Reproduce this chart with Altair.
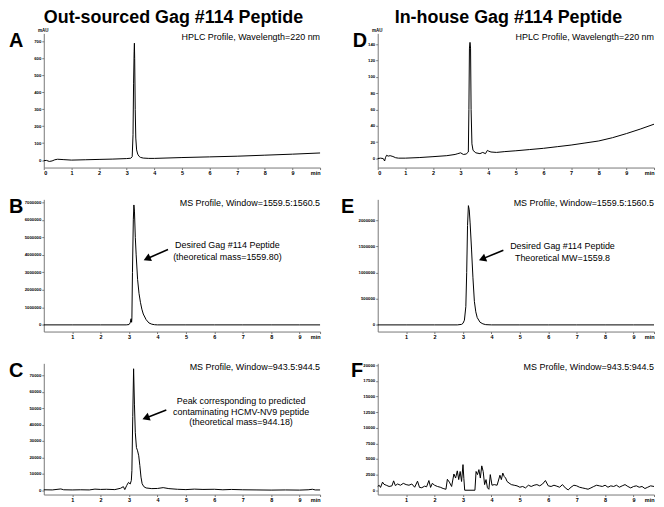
import altair as alt
import pandas as pd

FONT = "Liberation Sans"
PANEL_W = 278

# ---------------- data ----------------
# A: HPLC, out-sourced peptide (mAU)
A_T = [0, 0.1, 0.2, 0.3, 0.4, 0.5, 0.7, 1.0, 1.5, 2.0, 2.5, 3.0, 3.15, 3.2, 3.23, 3.25, 3.27, 3.28,
       3.29, 3.31, 3.33, 3.36, 3.4, 3.45, 3.5, 3.6, 3.8, 4.0, 5.0, 6.0, 7.0, 8.0, 9.0, 10.0]
A_V = [-3, -2, -8, -5, 2, 5, 3, 0, 2, 4, 6, 9, 11, 20, 150, 450, 640, 690,
       600, 300, 130, 60, 35, 22, 16, 12, 10, 10, 15, 19, 23, 29, 35, 42]

# D: HPLC, in-house peptide (mAU)
D_T = [0, 0.1, 0.2, 0.25, 0.28, 0.32, 0.38, 0.45, 0.55, 0.65, 0.75, 1.0, 1.5, 2.0, 2.5, 2.8, 2.9, 3.0,
       3.1, 3.2, 3.28, 3.30, 3.32, 3.34, 3.36, 3.38, 3.41, 3.45, 3.55, 3.7, 3.8, 3.9, 3.97, 4.02, 4.1,
       4.3, 4.6, 5.0, 5.5, 6.0, 6.5, 7.0, 7.5, 8.0, 8.5, 9.0, 9.5, 10.0]
D_V = [0, 0.5, 0, -3, 1, 4, 3, 3.5, 2.5, 1, 0.5, 0.5, 1.2, 2.3, 3.5, 5, 6, 7,
       5, 5.5, 8, 60, 135, 142, 135, 60, 18, 10, 7, 6, 7.5, 6, 10, 9, 8,
       7.5, 8.5, 9.5, 11, 12.5, 14.5, 16.5, 19, 21.5, 25.5, 30.5, 36, 42]

# B: MS profile 1559.5:1560.5, out-sourced
B_T = [0, 1, 2, 2.9, 3.0, 3.04, 3.07, 3.09, 3.1, 3.12, 3.15, 3.17, 3.19, 3.22, 3.25, 3.3, 3.35,
       3.4, 3.45, 3.5, 3.6, 3.7, 3.8, 3.9, 4.0, 5, 6, 7, 8, 9, 9.72]
B_V = [0, 0, 0, 0, 20000, 120000, 350000, 150000, 400000, 3000000, 6000000, 6850000, 6500000,
       5000000, 4000000, 2600000, 1800000, 1290000, 900000, 620000, 300000, 110000, 40000, 10000,
       0, 0, 0, 0, 0, 0, 0]

# E: MS profile 1559.5:1560.5, in-house
E_T = [0, 1, 2, 2.8, 2.95, 3.0, 3.05, 3.1, 3.13, 3.16, 3.19, 3.22, 3.25, 3.3, 3.35, 3.4, 3.45,
       3.5, 3.6, 3.7, 3.8, 4.0, 5, 6, 7, 8, 9, 9.72]
E_V = [0, 0, 0, 0, 10000, 30000, 90000, 350000, 1000000, 1900000, 2280000, 2200000, 1950000,
       1450000, 900000, 450000, 250000, 140000, 50000, 20000, 5000, 0, 0, 0, 0, 0, 0, 0]

# C: MS profile 943.5:944.5, out-sourced
C_T = [0, 0.3, 0.6, 0.7, 1.0, 1.3, 1.6, 1.8, 2.0, 2.2, 2.5, 2.7, 2.8, 2.85, 2.92, 2.98, 3.04,
       3.08, 3.1, 3.13, 3.16, 3.19, 3.22, 3.26, 3.3, 3.34, 3.38, 3.42, 3.46, 3.52, 3.6, 3.8, 4.0,
       4.2, 4.4, 4.7, 5.0, 5.3, 5.6, 6.0, 6.3, 6.6, 7.0, 7.5, 8.0, 8.5, 9.0, 9.3, 9.45, 9.55, 9.72]
C_V = [300, 200, 800, 300, 200, 300, 200, 700, 500, 600, 400, 1200, 2200, 400, 3000, 4800, 3800,
       6000, 12000, 45000, 74000, 52000, 35000, 26000, 24000, 21000, 15000, 8000, 4000, 2200, 1400,
       1000, 1100, 1600, 1000, 600, 400, 700, 500, 600, 300, 500, 300, 200, 100, 200, 100, 300,
       600, 200, 200]

# F: MS profile 943.5:944.5, in-house (noise)
F_T = [0.0, 0.05, 0.1, 0.17, 0.22, 0.3, 0.4, 0.5, 0.56, 0.62, 0.7, 0.8, 0.9, 1.0, 1.1, 1.2, 1.3,
       1.4, 1.47, 1.55, 1.65, 1.72, 1.8, 1.86, 1.92, 2.0, 2.1, 2.2, 2.3, 2.4, 2.45, 2.52, 2.6,
       2.68, 2.74, 2.8, 2.85, 2.9, 2.95, 3.0, 3.03, 3.06, 3.42, 3.46, 3.51, 3.56, 3.61, 3.66,
       3.71, 3.76, 3.81, 3.86, 3.91, 3.96, 4.02, 4.1, 4.2, 4.3, 4.35, 4.4, 4.45, 4.5, 4.55,
       4.62, 4.7, 4.8, 4.9, 5.0, 5.1, 5.2, 5.3, 5.4, 5.5, 5.6, 5.7, 5.8, 5.9, 6.0, 6.1, 6.2,
       6.3, 6.4, 6.5, 6.6, 6.7, 6.8, 6.9, 7.0, 7.1, 7.2, 7.3, 7.4, 7.5, 7.6, 7.7, 7.8, 7.9,
       8.0, 8.1, 8.2, 8.3, 8.4, 8.5, 8.6, 8.7, 8.8, 8.9, 9.0, 9.1, 9.2, 9.3, 9.4, 9.5, 9.6, 9.72]
F_V = [600, 800, 450, 1300, 950, 800, 600, 700, 1500, 750, 1000, 800, 1100, 900, 800, 1000, 480,
       1450, 450, 400, 650, 550, 1550, 450, 1100, 800, 600, 480, 280, 150, 1750, 1300, 600,
       2600, 1950, 3100, 1700, 3000, 1400, 4100, 1900, 0, 0, 3000, 2500, 3300, 1950, 3900,
       3000, 900, 1700, 400, 150, 2500, 800, 900, 800, 2400, 1700, 2750, 2200, 1950, 1400,
       1150, 900, 800, 700, 480, 600, 370, 800, 600, 800, 900, 700, 1000, 1550, 700, 600, 800,
       650, 480, 900, 370, 50, 480, 800, 700, 480, 370, 270, 160, 370, 600, 800, 700, 600,
       800, 480, 700, 600, 800, 480, 700, 900, 600, 370, 600, 700, 480, 600, 270, 480, 700, 600]

# axis ticks
HPLC_X_TICKS = [0, 1, 2, 3, 4, 5, 6, 7, 8, 9, 10]
MS_X_TICKS = [1, 2, 3, 4, 5, 6, 7, 8, 9, 9.72]
A_Y_TICKS = [0, 100, 200, 300, 400, 500, 600, 700]
D_Y_TICKS = [0, 20, 40, 60, 80, 100, 120, 140]
B_Y_TICKS = [0, 1000000, 2000000, 3000000, 4000000, 5000000, 6000000, 7000000]
E_Y_TICKS = [0, 500000, 1000000, 1500000, 2000000]
C_Y_TICKS = [0, 10000, 20000, 30000, 40000, 50000, 60000, 70000]
F_Y_TICKS = [0, 2500, 5000, 7500, 10000, 12500, 15000, 17500, 20000]

# annotations (data coordinates)
HPLC_HEADER = "HPLC Profile, Wavelength=220 nm"
MS1_HEADER = "MS Profile, Window=1559.5:1560.5"
MS2_HEADER = "MS Profile, Window=943.5:944.5"
B_NOTES = (["Desired Gag #114 Peptide", "(theoretical mass=1559.80)"], [6.46, 6.46], [4540000, 3880000])
E_NOTES = (["Desired Gag #114 Peptide", "Theoretical MW=1559.8"], [6.5, 6.5], [1500000, 1280000])
C_NOTES = (["Peak corresponding to predicted", "contaminating HCMV-NV9 peptide",
            "(theoretical mass=944.18)"], [6.94, 6.94, 6.94], [54360, 47870, 41800])
# arrows: tail (t, v), head (t2, v2), head angle
B_ARROW = (4.37, 4310000, 3.63, 3780000, 246)
E_ARROW = (4.42, 1426000, 3.68, 1262000, 248)
C_ARROW = (4.31, 48900, 3.59, 44000, 249)


def make_panel(t, v, xmax, ydom, yticks, xticks, letter, letter_x, header, height,
               ytitle=None, notes=None, arrow=None):
    assert len(t) == len(v)
    xs = alt.Scale(domain=[0, xmax], nice=False, zero=False)
    ys = alt.Scale(domain=ydom, nice=False, zero=False)
    xax = alt.Axis(values=xticks, labelExpr="datum.value >= 9.5 ? 'min' : datum.label",
                   labelFlush=True, tickSize=2, labelPadding=1, labelFontSize=5.5,
                   labelFontWeight="bold", labelColor="black", domainColor="#777",
                   tickColor="#777", grid=False, title=None)
    yargs = dict(values=yticks, format="d", tickSize=2, labelPadding=1, labelFontSize=4.3,
                 labelFontWeight="bold", labelColor="black", domainColor="#777",
                 tickColor="#777", grid=False)
    if ytitle:
        yax = alt.Axis(title=ytitle, titleAngle=0, titleX=-1, titleY=-1, titleAlign="center",
                       titleBaseline="bottom", titleFontSize=4.5, titleFontWeight="bold",
                       **yargs)
    else:
        yax = alt.Axis(title=None, **yargs)
    xe = alt.X("t:Q", scale=xs, axis=xax)
    ye = alt.Y("v:Q", scale=ys, axis=yax)

    line = alt.Chart(pd.DataFrame({"t": t, "v": v})).mark_line(
        color="black", strokeWidth=1).encode(x=xe, y=ye)
    head = alt.Chart(pd.DataFrame({"t": [xmax], "v": [ydom[1]], "label": [header]})).mark_text(
        align="right", baseline="top", fontSize=9, font=FONT, color="black").encode(
        x=xe, y=ye, text="label:N")
    let = alt.Chart(pd.DataFrame({"t": [letter_x], "v": [ydom[1]], "label": [letter]})).mark_text(
        align="left", baseline="top", fontSize=20, fontWeight="bold", font=FONT,
        color="black", dy=-2).encode(x=xe, y=ye, text="label:N")
    layers = [line, head, let]
    if notes:
        nd = pd.DataFrame({"label": notes[0], "t": notes[1], "v": notes[2]})
        layers.append(alt.Chart(nd).mark_text(
            align="center", baseline="middle", fontSize=9, font=FONT, color="black").encode(
            x=xe, y=ye, text="label:N"))
    if arrow:
        ad = pd.DataFrame({"t": [arrow[0]], "v": [arrow[1]], "t2": [arrow[2]], "v2": [arrow[3]]})
        layers.append(alt.Chart(ad).mark_rule(color="black", strokeWidth=1.6).encode(
            x=xe, y=ye, x2="t2:Q", y2="v2:Q"))
        hd = pd.DataFrame({"t": [arrow[2]], "v": [arrow[3]]})
        layers.append(alt.Chart(hd).mark_point(
            shape="triangle-up", filled=True, size=70, color="black", opacity=1,
            angle=arrow[4]).encode(x=xe, y=ye))
    return alt.layer(*layers).properties(width=PANEL_W, height=height)


pA = make_panel(A_T, A_V, 10, [-44, 748], A_Y_TICKS, HPLC_X_TICKS, "A", -1.26, HPLC_HEADER, 135,
                ytitle="mAU")
pB = make_panel(B_T, B_V, 9.72, [-380000, 7170000], B_Y_TICKS, MS_X_TICKS, "B", -1.22,
                MS1_HEADER, 133, notes=B_NOTES, arrow=B_ARROW)
pC = make_panel(C_T, C_V, 9.72, [-2600, 77300], C_Y_TICKS, MS_X_TICKS, "C", -1.22,
                MS2_HEADER, 132, notes=C_NOTES, arrow=C_ARROW)
pD = make_panel(D_T, D_V, 10, [-11, 153], D_Y_TICKS, HPLC_X_TICKS, "D", -0.9, HPLC_HEADER, 135,
                ytitle="mAU")
pE = make_panel(E_T, E_V, 9.72, [-127000, 2400000], E_Y_TICKS, MS_X_TICKS, "E", -1.29,
                MS1_HEADER, 133, notes=E_NOTES, arrow=E_ARROW)
pF = make_panel(F_T, F_V, 9.72, [-690, 20320], F_Y_TICKS, MS_X_TICKS, "F", -0.94,
                MS2_HEADER, 132)

left = alt.vconcat(pA, pB, pC, spacing=21,
                   title=alt.TitleParams("Out-sourced Gag #114 Peptide", fontSize=18,
                                         fontWeight="bold", font=FONT, anchor="middle",
                                         offset=0, dx=8))
right = alt.vconcat(pD, pE, pF, spacing=21,
                    title=alt.TitleParams("In-house Gag #114 Peptide", fontSize=18,
                                          fontWeight="bold", font=FONT, anchor="middle",
                                          offset=0, dx=10))

chart = alt.hconcat(left, right, spacing=19).properties(padding=0).configure(
    font=FONT).configure_view(strokeWidth=0)

chart.save("out.html", embed_options={"renderer": "svg", "actions": False})
